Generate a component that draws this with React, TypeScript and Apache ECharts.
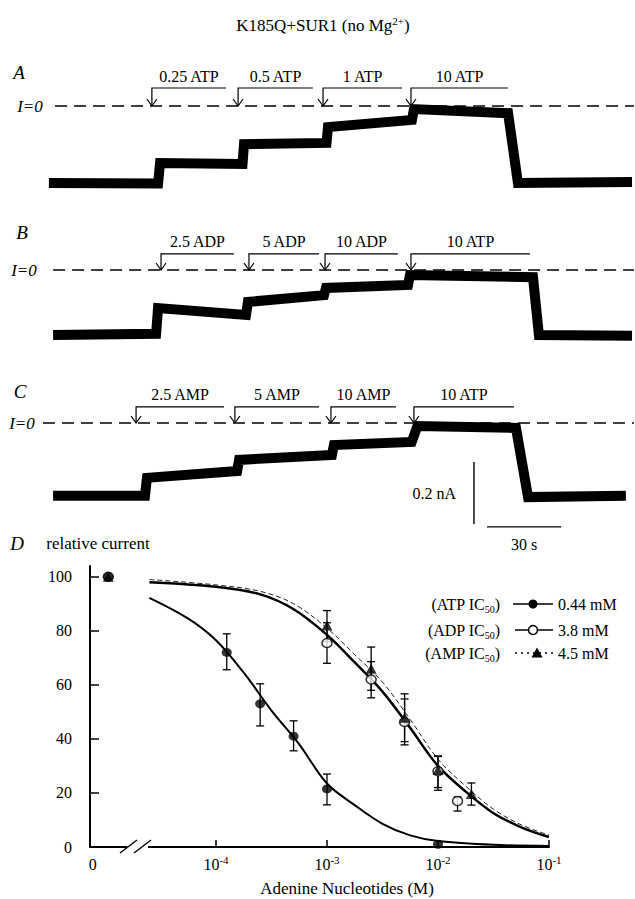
import React, { useEffect, useRef } from "react";
import * as echarts from "echarts";

const SERIF = '"Liberation Serif", "Times New Roman", Times, serif';

// ---------- Panels A–C : current traces (time in s, current in nA, I = 0 at the dashed line)
const TRACE_A_T = [3.6, 47.8, 48.6, 82.0, 82.6, 116.0, 116.6, 150.6, 151.4, 189.5, 193.5, 239.7];
const TRACE_A_I = [-0.248, -0.25, -0.184, -0.187, -0.123, -0.119, -0.068, -0.045, -0.01, -0.023, -0.248, -0.245];
const TRACE_B_T = [5.3, 47.0, 47.8, 83.4, 84.2, 115.0, 115.8, 149.0, 149.8, 199.6, 202.0, 239.7];
const TRACE_B_I = [-0.21, -0.206, -0.123, -0.145, -0.103, -0.081, -0.058, -0.048, -0.016, -0.023, -0.21, -0.212];
const TRACE_C_T = [5.3, 42.5, 43.3, 79.8, 80.6, 118.2, 119.0, 150.5, 152.8, 192.7, 197.6, 237.2];
const TRACE_C_I = [-0.235, -0.235, -0.177, -0.155, -0.119, -0.103, -0.071, -0.061, -0.01, -0.016, -0.239, -0.235];

// solution applications (label, start/end time in s)
const A_LABELS = ["0.25 ATP", "0.5 ATP", "1 ATP", "10 ATP"];
const A_START = [45.3, 80.2, 114.6, 150.2];
const A_END = [75.3, 110.5, 146.6, 189.5];
const B_LABELS = ["2.5 ADP", "5 ADP", "10 ADP", "10 ATP"];
const B_START = [49.0, 84.6, 115.4, 150.2];
const B_END = [78.5, 113.0, 144.9, 198.4];
const C_LABELS = ["2.5 AMP", "5 AMP", "10 AMP", "10 ATP"];
const C_START = [38.9, 78.9, 117.8, 151.4];
const C_END = [74.5, 113.0, 144.1, 191.9];

const SCALE_CURRENT = 0.2; // nA
const SCALE_TIME = 30; // s

// ---------- Panel D : relative current vs concentration (M); 0 = control
const ATP_CONC = [0, 1.25e-4, 2.5e-4, 5e-4, 1e-3, 1e-2];
const ATP_MEAN = [100, 72, 53, 41, 21.5, 1];
const ATP_LO = [100, 65.6, 44.8, 35.6, 15.6, 1];
const ATP_HI = [100, 78.9, 60.4, 46.7, 27, 1];

const ADP_CONC = [0, 1e-3, 2.5e-3, 5e-3, 1e-2, 1.5e-2];
const ADP_MEAN = [100, 75.5, 62, 46.3, 28, 17];
const ADP_LO = [100, 68, 55.2, 37.8, 21, 13.3];
const ADP_HI = [100, 83, 68.6, 54.8, 33.7, 18.5];

const AMP_CONC = [0, 1e-3, 2.5e-3, 5e-3, 1e-2, 2e-2];
const AMP_MEAN = [100, 82, 66, 47.8, 28.5, 19.6];
const AMP_LO = [100, 76, 58, 39, 22, 15.5];
const AMP_HI = [100, 87.5, 74, 56.7, 33.5, 23.7];

// fitted curves (log10 M, relative current)
const ATP_FIT_X = [-4.6, -4.25, -4.0, -3.75, -3.5, -3.25, -3.0, -2.75, -2.5, -2.25, -2.0, -1.5, -1.0];
const ATP_FIT_Y = [92.2, 84.5, 76.5, 64.5, 50.5, 38, 23.5, 15.5, 8.6, 4.3, 2.2, 0.8, 0.4];
const ADP_FIT_X = [-4.6, -4.0, -3.6, -3.3, -3.0, -2.75, -2.5, -2.25, -2.0, -1.75, -1.5, -1.25, -1.0];
const ADP_FIT_Y = [98, 96.3, 93.5, 88, 78.5, 68.3, 57.5, 44, 30, 20.5, 12.5, 7.3, 3.7];
const AMP_FIT_X = [-4.6, -4.0, -3.6, -3.3, -3.0, -2.75, -2.5, -2.25, -2.0, -1.75, -1.5, -1.25, -1.0];
const AMP_FIT_Y = [99, 97, 94.6, 90, 81, 71.2, 61, 47.2, 32.5, 22.5, 14, 8.2, 4.4];

const X_TICKS = [-4, -3, -2, -1];
const Y_TICKS = [0, 20, 40, 60, 80, 100];
const LEGEND_NAMES = ["ATP", "ADP", "AMP"];
const LEGEND_IC50 = ["0.44 mM", "3.8 mM", "4.5 mM"];

// layout of panel D x axis (broken axis: control plotted left of the break)
const X_MIN = -5.135;
const ZERO_LABEL_X = -5.11;
const CONTROL_X = -4.97;
const xPos = (c: number) => (c === 0 ? CONTROL_X : Math.log10(c));

const BLACK = "#000";

function traceSeries(idx: number, t: number[], i: number[]) {
  return {
    type: "line",
    xAxisIndex: idx,
    yAxisIndex: idx,
    data: t.map((v, k) => [v, i[k]]),
    symbol: "none",
    silent: true,
    lineStyle: { color: BLACK, width: 10, join: "miter" },
    z: 3,
  };
}

function zeroLine(idx: number, t0: number) {
  return {
    type: "line",
    xAxisIndex: idx,
    yAxisIndex: idx,
    data: [
      [t0, 0],
      [240.5, 0],
    ],
    symbol: "none",
    silent: true,
    lineStyle: { color: BLACK, width: 1.3, type: [12, 7] },
    z: 2,
  };
}

function bracketSeries(idx: number, labels: string[], starts: number[], ends: number[], level: number) {
  return {
    type: "custom",
    xAxisIndex: idx,
    yAxisIndex: idx,
    silent: true,
    clip: false,
    data: starts.map((s, k) => [s, ends[k], level]),
    encode: { x: [0, 1], y: 2 },
    renderItem: (params: any, api: any) => {
      const s = api.value(0);
      const e = api.value(1);
      const lv = api.value(2);
      const tip = api.coord([s, 0]);
      const top = api.coord([s, lv]);
      const end = api.coord([e, lv]);
      const st = { stroke: BLACK, lineWidth: 1.2, fill: "none" };
      return {
        type: "group",
        children: [
          { type: "polyline", shape: { points: [tip, top, end] }, style: st },
          {
            type: "polyline",
            shape: { points: [[tip[0] - 5, tip[1] - 7], tip, [tip[0] + 5, tip[1] - 7]] },
            style: st,
          },
          {
            type: "text",
            x: (top[0] + end[0]) / 2,
            y: top[1] - 4,
            style: {
              text: labels[params.dataIndex],
              fontSize: 16,
              fontFamily: SERIF,
              fill: BLACK,
              align: "center",
              verticalAlign: "bottom",
              textAlign: "center",
              textVerticalAlign: "bottom",
            },
          },
        ],
      };
    },
  };
}

function scaleBarSeries() {
  return {
    type: "custom",
    xAxisIndex: 2,
    yAxisIndex: 2,
    silent: true,
    clip: false,
    data: [[175.7, -0.126]],
    encode: { x: 0, y: 1 },
    renderItem: (_p: any, api: any) => {
      const t0 = api.value(0);
      const i0 = api.value(1);
      const a = api.coord([t0, i0]);
      const b = api.coord([t0, i0 - SCALE_CURRENT]);
      const h1 = api.coord([t0 + 5.3, i0 - SCALE_CURRENT - 0.009]);
      const h2 = api.coord([t0 + 5.3 + SCALE_TIME, i0 - SCALE_CURRENT - 0.009]);
      const st = { stroke: BLACK, lineWidth: 1.4 };
      const ts = { fontSize: 16, fontFamily: SERIF, fill: BLACK };
      return {
        type: "group",
        children: [
          { type: "line", shape: { x1: a[0], y1: a[1], x2: b[0], y2: b[1] }, style: st },
          { type: "line", shape: { x1: h1[0], y1: h1[1], x2: h2[0], y2: h2[1] }, style: st },
          {
            type: "text",
            x: a[0] - 18,
            y: (a[1] + b[1]) / 2,
            style: { ...ts, text: `${SCALE_CURRENT} nA`, align: "right", verticalAlign: "middle", textAlign: "right", textVerticalAlign: "middle" },
          },
          {
            type: "text",
            x: (h1[0] + h2[0]) / 2,
            y: h1[1] + 18,
            style: { ...ts, text: `${SCALE_TIME} s`, align: "center", verticalAlign: "middle", textAlign: "center", textVerticalAlign: "middle" },
          },
        ],
      };
    },
  };
}

function errorSeries(name: string, conc: number[], lo: number[], hi: number[]) {
  return {
    name: name + " SEM",
    type: "custom",
    xAxisIndex: 3,
    yAxisIndex: 3,
    silent: true,
    data: conc.map((c, k) => [xPos(c), lo[k], hi[k]]).filter((d) => d[2] - d[1] > 0.5),
    encode: { x: 0, y: [1, 2] },
    z: 4,
    renderItem: (_p: any, api: any) => {
      const x = api.value(0);
      const a = api.coord([x, api.value(1)]);
      const b = api.coord([x, api.value(2)]);
      const w = 4;
      const st = { stroke: BLACK, lineWidth: 1.3 };
      return {
        type: "group",
        children: [
          { type: "line", shape: { x1: a[0], y1: a[1], x2: b[0], y2: b[1] }, style: st },
          { type: "line", shape: { x1: a[0] - w, y1: a[1], x2: a[0] + w, y2: a[1] }, style: st },
          { type: "line", shape: { x1: b[0] - w, y1: b[1], x2: b[0] + w, y2: b[1] }, style: st },
        ],
      };
    },
  };
}

function fitSeries(name: string, xs: number[], ys: number[], width: number, dashed: boolean) {
  return {
    name: name + " fit",
    type: "line",
    xAxisIndex: 3,
    yAxisIndex: 3,
    data: xs.map((x, k) => [x, ys[k]]),
    symbol: "none",
    smooth: 0.35,
    silent: true,
    lineStyle: { color: dashed ? "#222" : BLACK, width, type: dashed ? [5, 3] : "solid" },
    z: 3,
  };
}

function pointSeries(name: string, conc: number[], mean: number[], symbol: string, filled: boolean, z: number) {
  return {
    name,
    type: "scatter",
    xAxisIndex: 3,
    yAxisIndex: 3,
    data: conc.map((c, k) => [xPos(c), mean[k]]),
    symbol,
    symbolSize: symbol === "triangle" ? [11, 10] : [10, 9],
    itemStyle: filled ? { color: BLACK } : { color: "#fff", borderColor: BLACK, borderWidth: 1.5 },
    z,
  };
}

function buildOption() {
  const txt = (x: number, y: number, text: string, size: number, italic = false, align = "center") => ({
    type: "text",
    x,
    y,
    z: 100,
    style: {
      text,
      fontSize: size,
      fontFamily: SERIF,
      fontStyle: italic ? "italic" : "normal",
      fill: BLACK,
      align,
      verticalAlign: "middle",
      textAlign: align,
      textVerticalAlign: "middle",
    },
  });

  const legendRowsY = [604, 630, 653];
  const legendGraphics: any[] = [];
  LEGEND_NAMES.forEach((n, k) => {
    const y = legendRowsY[k];
    legendGraphics.push({
      type: "text",
      x: 500,
      y,
      z: 100,
      style: {
        text: `{t|(${n} IC}{s|50}{t|)}`,
        align: "right",
        verticalAlign: "middle",
        textAlign: "right",
        textVerticalAlign: "middle",
        rich: {
          t: { fontSize: 16, fontFamily: SERIF, fill: BLACK, lineHeight: 20 },
          s: { fontSize: 10, fontFamily: SERIF, fill: BLACK, lineHeight: 10, verticalAlign: "bottom" },
        },
      },
    });
    legendGraphics.push({
      type: "line",
      z: 100,
      shape: { x1: k === 0 ? 513 : 515, y1: y, x2: 553, y2: y },
      style: { stroke: BLACK, lineWidth: k === 2 ? 1.3 : 1.5, lineDash: k === 2 ? [2, 4] : null },
    });
    if (k === 2) {
      legendGraphics.push({
        type: "polygon",
        z: 101,
        shape: { points: [[537, y - 5.5], [531.5, y + 4.5], [542.5, y + 4.5]] },
        style: { fill: BLACK },
      });
    } else {
      legendGraphics.push({
        type: "circle",
        z: 101,
        shape: { cx: 533, cy: y, r: 4.5 },
        style: k === 0 ? { fill: BLACK } : { fill: "#fff", stroke: BLACK, lineWidth: 1.5 },
      });
    }
    legendGraphics.push(txt(558, y, LEGEND_IC50[k], 16, false, "left"));
  });

  const traceXAxis = (g: number) => ({ gridIndex: g, type: "value", min: 0, max: 240.9, show: false });
  const traceYAxis = (g: number) => ({ gridIndex: g, type: "value", min: -0.4, max: 0.1, show: false });

  return {
    animation: false,
    backgroundColor: "#fff",
    textStyle: { fontFamily: SERIF, color: BLACK },
    grid: [
      { left: 40, top: 75, width: 595, height: 155 },
      { left: 40, top: 239, width: 595, height: 155 },
      { left: 40, top: 392, width: 595, height: 155 },
      { left: 90, top: 566, width: 459, height: 281 },
    ],
    xAxis: [
      traceXAxis(0),
      traceXAxis(1),
      traceXAxis(2),
      {
        gridIndex: 3,
        type: "value",
        min: X_MIN,
        max: -1,
        axisLine: { show: true, onZero: false, lineStyle: { color: BLACK, width: 2 } },
        axisTick: { show: true, inside: true, length: 7, customValues: X_TICKS, lineStyle: { color: BLACK, width: 1.5 } },
        splitLine: { show: false },
        axisLabel: {
          customValues: [ZERO_LABEL_X, ...X_TICKS],
          margin: 7,
          color: BLACK,
          formatter: (v: number) => (Math.abs(v - ZERO_LABEL_X) < 1e-6 ? "{b|0}" : `{b|10}{s|${Math.round(v)}}`),
          rich: {
            b: { fontSize: 16, fontFamily: SERIF, color: BLACK, lineHeight: 20 },
            s: { fontSize: 11, fontFamily: SERIF, color: BLACK, lineHeight: 11, verticalAlign: "top" },
          },
        },
      },
    ],
    yAxis: [
      traceYAxis(0),
      traceYAxis(1),
      traceYAxis(2),
      {
        gridIndex: 3,
        type: "value",
        min: 0,
        max: 104,
        axisLine: { show: true, onZero: false, lineStyle: { color: BLACK, width: 2 } },
        axisTick: { show: true, inside: true, length: 9, customValues: Y_TICKS.filter((v) => v > 0), lineStyle: { color: BLACK, width: 1.5 } },
        splitLine: { show: false },
        axisLabel: { customValues: Y_TICKS, margin: 18, color: BLACK, fontSize: 16, fontFamily: SERIF },
      },
    ],
    graphic: [
      {
        type: "text",
        x: 323,
        y: 25,
        z: 100,
        style: {
          text: "{t|K185Q+SUR1 (no Mg}{p|2+}{t|)}",
          align: "center",
          verticalAlign: "middle",
          textAlign: "center",
          textVerticalAlign: "middle",
          rich: {
            t: { fontSize: 17, fontFamily: SERIF, fill: BLACK, lineHeight: 20 },
            p: { fontSize: 11, fontFamily: SERIF, fill: BLACK, lineHeight: 11, verticalAlign: "top" },
          },
        },
      },
      txt(19, 72, "A", 19, true),
      txt(22, 232, "B", 19, true),
      txt(20, 391, "C", 19, true),
      txt(17, 543, "D", 19, true),
      txt(30, 106, "I=0", 17, true),
      txt(24, 270, "I=0", 17, true),
      txt(22, 423, "I=0", 17, true),
      txt(98, 543, "relative current", 17),
      txt(347, 888, "Adenine Nucleotides (M)", 17),
      // axis break
      { type: "rect", z: 100, shape: { x: 127, y: 842, width: 21, height: 10 }, style: { fill: "#fff" } },
      { type: "line", z: 101, shape: { x1: 120, y1: 853, x2: 137, y2: 840 }, style: { stroke: BLACK, lineWidth: 1.4 } },
      { type: "line", z: 101, shape: { x1: 134, y1: 853, x2: 151, y2: 840 }, style: { stroke: BLACK, lineWidth: 1.4 } },
      ...legendGraphics,
    ],
    series: [
      zeroLine(0, 6.1),
      zeroLine(1, 5.3),
      zeroLine(2, 1.2),
      traceSeries(0, TRACE_A_T, TRACE_A_I),
      traceSeries(1, TRACE_B_T, TRACE_B_I),
      traceSeries(2, TRACE_C_T, TRACE_C_I),
      bracketSeries(0, A_LABELS, A_START, A_END, 0.058),
      bracketSeries(1, B_LABELS, B_START, B_END, 0.052),
      bracketSeries(2, C_LABELS, C_START, C_END, 0.052),
      scaleBarSeries(),
      fitSeries("AMP", AMP_FIT_X, AMP_FIT_Y, 1, true),
      fitSeries("ADP", ADP_FIT_X, ADP_FIT_Y, 2.5, false),
      fitSeries("ATP", ATP_FIT_X, ATP_FIT_Y, 2, false),
      errorSeries("ADP", ADP_CONC, ADP_LO, ADP_HI),
      errorSeries("AMP", AMP_CONC, AMP_LO, AMP_HI),
      errorSeries("ATP", ATP_CONC, ATP_LO, ATP_HI),
      pointSeries("ADP", ADP_CONC, ADP_MEAN, "circle", false, 5),
      pointSeries("AMP", AMP_CONC, AMP_MEAN, "triangle", true, 6),
      pointSeries("ATP", ATP_CONC, ATP_MEAN, "circle", true, 7),
    ],
  };
}

export default function App() {
  const ref = useRef<HTMLDivElement>(null);
  useEffect(() => {
    const chart = echarts.init(ref.current as HTMLDivElement, undefined, { renderer: "svg" });
    chart.setOption(buildOption() as any);
    return () => chart.dispose();
  }, []);
  return (
    <div
      ref={ref}
      style={{ position: "absolute", left: 0, top: 0, width: 635, height: 899, background: "#fff" }}
    />
  );
}
